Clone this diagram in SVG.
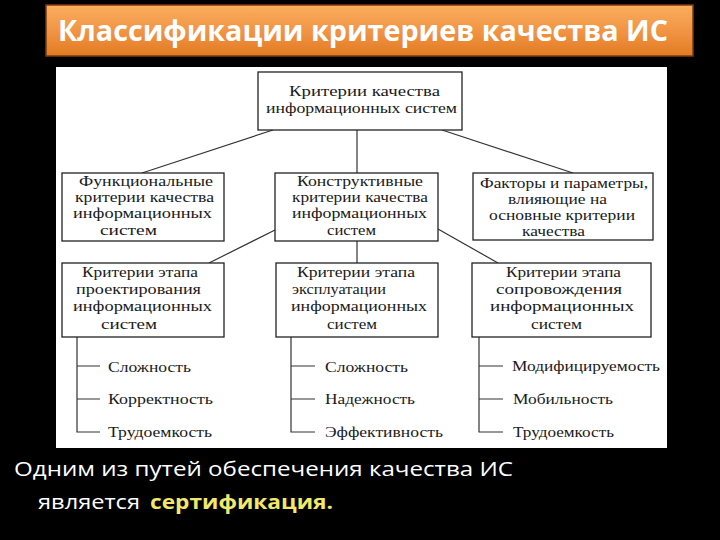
<svg xmlns="http://www.w3.org/2000/svg" width="720" height="540" viewBox="0 0 720 540">
<defs>
<linearGradient id="orange" x1="0" y1="0" x2="0" y2="1">
<stop offset="0" stop-color="#F9AE5E"/>
<stop offset="0.5" stop-color="#F19545"/>
<stop offset="1" stop-color="#E27A22"/>
</linearGradient>
<style>
.box{fill:#fff;stroke:#222;stroke-width:1.3}
.conn{stroke:#333;stroke-width:1.2;fill:none}
.t{font-family:"Liberation Serif","Times New Roman",serif;font-size:15px;fill:#1a1a1a}
.title{font-family:"Open Sans","Noto Sans",sans-serif;font-size:29px;font-weight:700;fill:#fff}
.foot{font-family:"Open Sans","Noto Sans",sans-serif;font-size:20px;fill:#fff}
.hl{font-weight:700;fill:#F2E86A}
</style>
</defs>
<rect x="0" y="0" width="720" height="540" fill="#000"/>
<g id="title">
<rect x="46" y="5" width="647" height="51" fill="url(#orange)" stroke="#7a3a10" stroke-width="1.5"/>
<text class="title" x="58" y="41" textLength="610" lengthAdjust="spacingAndGlyphs">Классификации критериев качества ИС</text>
</g>
<rect id="panel" x="56" y="67" width="611" height="381" fill="#fff"/>
<g id="connectors">
<line class="conn" x1="273" y1="130" x2="142" y2="173"/>
<line class="conn" x1="357" y1="130" x2="357" y2="173"/>
<line class="conn" x1="442" y1="130" x2="573" y2="173"/>
<line class="conn" x1="275" y1="230" x2="209" y2="263"/>
<line class="conn" x1="357" y1="241" x2="357" y2="263"/>
<line class="conn" x1="438" y1="229" x2="498" y2="263"/>
<path class="conn" d="M77 337V432H100M77 366H100M77 399H100"/>
<path class="conn" d="M291 337V432H315M291 366H315M291 399H315"/>
<path class="conn" d="M479 337V432H503M479 366H503M479 399H503"/>
</g>
<g id="root">
<rect class="box" x="258" y="72" width="204" height="58"/>
<text class="t" x="289" y="96" textLength="151" lengthAdjust="spacingAndGlyphs">Критерии качества</text>
<text class="t" x="266" y="113" textLength="191" lengthAdjust="spacingAndGlyphs">информационных систем</text>
</g>
<g id="functional">
<rect class="box" x="62" y="173" width="162" height="68"/>
<text class="t" x="79" y="186" textLength="134" lengthAdjust="spacingAndGlyphs">Функциональные</text>
<text class="t" x="75" y="202" textLength="139" lengthAdjust="spacingAndGlyphs">критерии качества</text>
<text class="t" x="73" y="218" textLength="139" lengthAdjust="spacingAndGlyphs">информационных</text>
<text class="t" x="100" y="235" textLength="57" lengthAdjust="spacingAndGlyphs">систем</text>
</g>
<g id="constructive">
<rect class="box" x="275" y="173" width="163" height="68"/>
<text class="t" x="297" y="186" textLength="126" lengthAdjust="spacingAndGlyphs">Конструктивные</text>
<text class="t" x="292" y="202" textLength="136" lengthAdjust="spacingAndGlyphs">критерии качества</text>
<text class="t" x="292" y="218" textLength="135" lengthAdjust="spacingAndGlyphs">информационных</text>
<text class="t" x="327" y="235" textLength="49" lengthAdjust="spacingAndGlyphs">систем</text>
</g>
<g id="factors">
<rect class="box" x="473" y="173" width="180" height="67"/>
<text class="t" x="480" y="188" textLength="168" lengthAdjust="spacingAndGlyphs">Факторы и параметры,</text>
<text class="t" x="508" y="204" textLength="99" lengthAdjust="spacingAndGlyphs">влияющие на</text>
<text class="t" x="489" y="220" textLength="146" lengthAdjust="spacingAndGlyphs">основные критерии</text>
<text class="t" x="522" y="236" textLength="63" lengthAdjust="spacingAndGlyphs">качества</text>
</g>
<g id="design">
<rect class="box" x="62" y="263" width="162" height="74"/>
<text class="t" x="82" y="277" textLength="116" lengthAdjust="spacingAndGlyphs">Критерии этапа</text>
<text class="t" x="76" y="294" textLength="125" lengthAdjust="spacingAndGlyphs">проектирования</text>
<text class="t" x="73" y="311" textLength="139" lengthAdjust="spacingAndGlyphs">информационных</text>
<text class="t" x="101" y="329" textLength="56" lengthAdjust="spacingAndGlyphs">систем</text>
</g>
<g id="operation">
<rect class="box" x="276" y="263" width="162" height="74"/>
<text class="t" x="297" y="277" textLength="118" lengthAdjust="spacingAndGlyphs">Критерии этапа</text>
<text class="t" x="292" y="294" textLength="94" lengthAdjust="spacingAndGlyphs">эксплуатации</text>
<text class="t" x="291" y="311" textLength="136" lengthAdjust="spacingAndGlyphs">информационных</text>
<text class="t" x="327" y="329" textLength="50" lengthAdjust="spacingAndGlyphs">систем</text>
</g>
<g id="maintenance">
<rect class="box" x="472" y="263" width="179" height="74"/>
<text class="t" x="506" y="277" textLength="115" lengthAdjust="spacingAndGlyphs">Критерии этапа</text>
<text class="t" x="496" y="294" textLength="126" lengthAdjust="spacingAndGlyphs">сопровождения</text>
<text class="t" x="490" y="311" textLength="144" lengthAdjust="spacingAndGlyphs">информационных</text>
<text class="t" x="531" y="329" textLength="51" lengthAdjust="spacingAndGlyphs">систем</text>
</g>
<g id="design-list">
<text class="t" x="108" y="372" textLength="83" lengthAdjust="spacingAndGlyphs">Сложность</text>
<text class="t" x="108" y="404" textLength="105" lengthAdjust="spacingAndGlyphs">Корректность</text>
<text class="t" x="108" y="437" textLength="104" lengthAdjust="spacingAndGlyphs">Трудоемкость</text>
</g>
<g id="operation-list">
<text class="t" x="325" y="372" textLength="83" lengthAdjust="spacingAndGlyphs">Сложность</text>
<text class="t" x="325" y="404" textLength="90" lengthAdjust="spacingAndGlyphs">Надежность</text>
<text class="t" x="325" y="437" textLength="118" lengthAdjust="spacingAndGlyphs">Эффективность</text>
</g>
<g id="maintenance-list">
<text class="t" x="512" y="371" textLength="148" lengthAdjust="spacingAndGlyphs">Модифицируемость</text>
<text class="t" x="513" y="404" textLength="100" lengthAdjust="spacingAndGlyphs">Мобильность</text>
<text class="t" x="513" y="437" textLength="101" lengthAdjust="spacingAndGlyphs">Трудоемкость</text>
</g>
<g id="footer">
<text class="foot" x="14" y="476" textLength="499" lengthAdjust="spacingAndGlyphs">Одним из путей обеспечения качества ИС</text>
<text class="foot" x="38" y="509" textLength="102" lengthAdjust="spacingAndGlyphs">является</text>
<text class="foot hl" x="150" y="509" textLength="183" lengthAdjust="spacingAndGlyphs">сертификация.</text>
</g>
</svg>
